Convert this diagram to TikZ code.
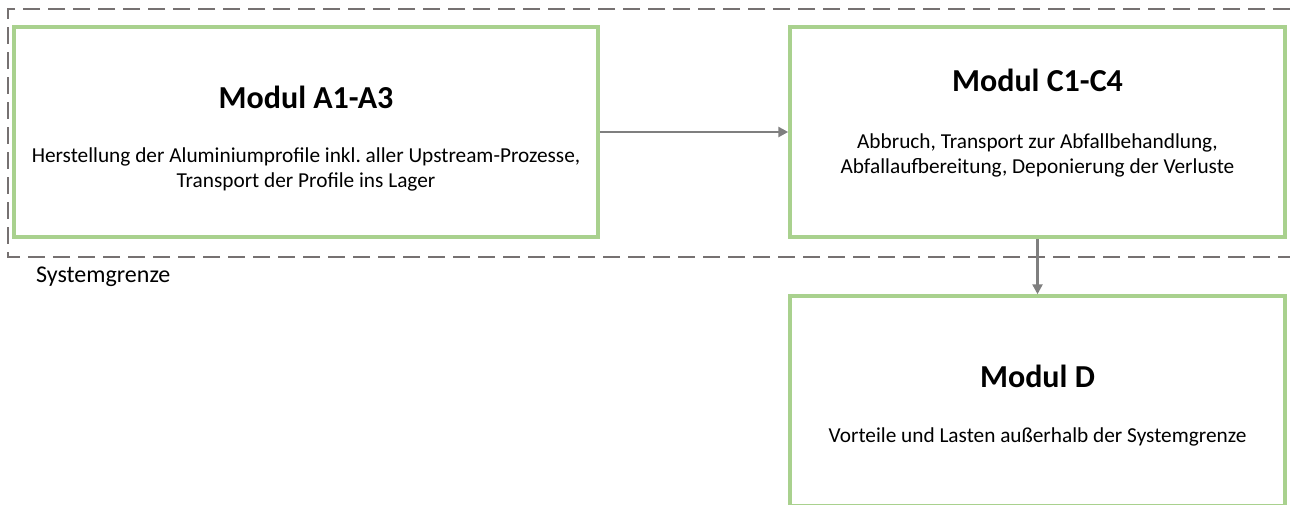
\documentclass[tikz,border=0pt]{standalone}
\usepackage{fontspec}
\setmainfont{Carlito}
\usetikzlibrary{arrows.meta}
\definecolor{rahmengruen}{HTML}{A9D18E}
\definecolor{grenzgrau}{HTML}{767171}
\definecolor{pfeilgrau}{HTML}{7F7F7F}
\frenchspacing
\begin{document}
\begin{tikzpicture}[x=1pt,y=-1pt,
    modulbox/.style={draw=rahmengruen,line width=3.5pt,minimum width=#1,minimum height=210pt,inner sep=0pt},
    titel/.style={font=\fontsize{32}{36}\selectfont\bfseries},
    beschreibung/.style={font=\fontsize{21.3}{25}\selectfont,align=center},
    pfeil/.style={draw=pfeilgrau,line width=2.8pt,-{Triangle[length=10pt,width=10pt]}}]
	\useasboundingbox (0,0) rectangle (1290,504);
	% Systemgrenze
	\draw[grenzgrau,line width=1.6pt,dash pattern=on 17pt off 8pt] (1290,9) -- (8,9) -- (8,257) -- (1290,257);
	\node[anchor=west,inner sep=0pt,font=\fontsize{24}{28}\selectfont] (grenze) at (36,277) {Systemgrenze};
	% Module
	\node[modulbox=584pt] (a) at (306,132) {};
	\node[modulbox=495pt] (c) at (1037.5,132) {};
	\node[modulbox=495pt] (d) at (1037.5,401) {};
	% Texte
	\node[titel] (a titel) at (306,97) {Modul A1-A3};
	\node[beschreibung] (a text) at (306,169) {Herstellung der Aluminiumprofile inkl. aller Upstream-Prozesse,\\Transport der Profile ins Lager};
	\node[titel] (c titel) at (1037.5,80) {Modul C1-C4};
	\node[beschreibung] (c text) at (1037.5,155) {Abbruch, Transport zur Abfallbehandlung,\\Abfallaufbereitung, Deponierung der Verluste};
	\node[titel] (d titel) at (1037.5,376) {Modul D};
	\node[beschreibung] (d text) at (1037.5,437) {Vorteile und Lasten außerhalb der Systemgrenze};
	% Pfeile
	\draw[pfeil] (a.east) -- (c.west);
	\draw[pfeil] (c.south) -- (d.north);
\end{tikzpicture}
\end{document}
